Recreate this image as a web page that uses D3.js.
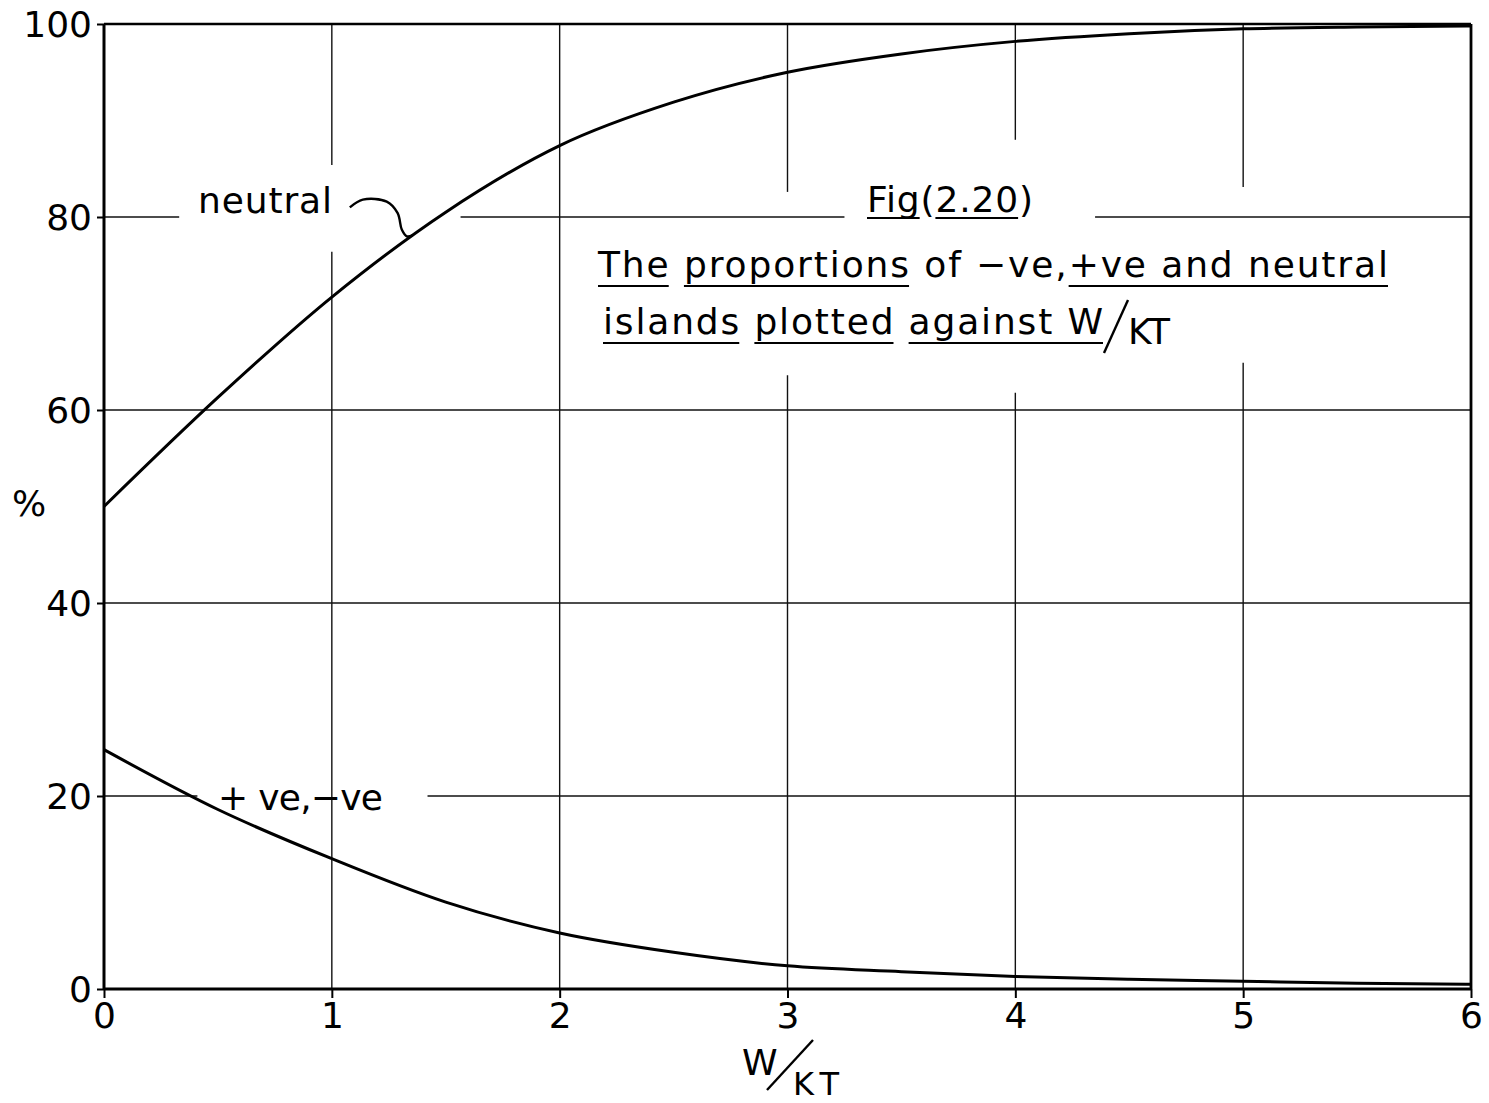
<!DOCTYPE html>
<html>
<head>
<meta charset="utf-8">
<script src="https://cdn.jsdelivr.net/npm/d3@7"></script>
<style>
  html, body { margin: 0; padding: 0; background: #fff; }
  svg { display: block; }
  text { font-family: "DejaVu Sans", "Liberation Sans", sans-serif; fill: #000; }
</style>
</head>
<body>
<svg id="chart" width="1489" height="1103"></svg>
<script>
// W/KT values at which the curves are read
const wkt = [0, 0.5, 1, 1.5, 2, 2.5, 3, 3.5, 4, 4.5, 5, 5.5, 6];
// percentage of neutral islands
const neutralPct = [50, 61.3, 71.7, 80.5, 87.4, 91.9, 95.0, 96.9, 98.2, 99.0, 99.5, 99.7, 99.8];
// percentage of +ve (equal to -ve) islands
const chargedPct = [24.8, 18.6, 13.5, 9.0, 5.8, 3.8, 2.4, 1.8, 1.3, 1.0, 0.8, 0.6, 0.5];

const xTicks = [0, 1, 2, 3, 4, 5, 6];
const yTicks = [0, 20, 40, 60, 80, 100];
const xTickLabels = ["0", "1", "2", "3", "4", "5", "6"];
const yTickLabels = ["0", "20", "40", "60", "80", "100"];

// grid lines are left open where the lettering sits
const vGridGaps = [
  { x: 1, from: 76.4, to: 85.4 },
  { x: 3, from: 63.6, to: 82.6 },
  { x: 4, from: 61.8, to: 88.0 },
  { x: 5, from: 64.9, to: 83.1 }
];
const hGridGaps = [
  { y: 80, from: 0.33, to: 1.565 },
  { y: 80, from: 3.25, to: 4.35 },
  { y: 20, from: 0.41, to: 1.42 }
];

// hand-drawn leader from the "neutral" label to its curve (data units)
const leaderPts = [
  [1.079, 81.0], [1.136, 81.8], [1.241, 81.6], [1.289, 80.4],
  [1.307, 78.7], [1.329, 78.0], [1.355, 78.1]
];

const svg = d3.select("#chart");
svg.append("rect").attr("width", 1489).attr("height", 1103).attr("fill", "#fff");

const x = d3.scaleLinear().domain([0, 6]).range([104, 1471]);
const y = d3.scaleLinear().domain([0, 100]).range([989, 24]);

const FS = 36;
const FONT = "DejaVu Sans, sans-serif";

// ---- grid ----
const grid = svg.append("g").attr("stroke", "#111").attr("stroke-width", 1.4).attr("fill", "none");

function segments(lo, hi, gaps) {
  const g = gaps.slice().sort((a, b) => a.from - b.from);
  const out = [];
  let cur = lo;
  g.forEach(d => { out.push([cur, d.from]); cur = d.to; });
  out.push([cur, hi]);
  return out;
}

xTicks.filter(v => v > 0 && v < 6).forEach(v => {
  const gaps = vGridGaps.filter(d => d.x === v);
  segments(0, 100, gaps).forEach(s => {
    grid.append("line")
      .attr("x1", x(v)).attr("x2", x(v))
      .attr("y1", y(s[0])).attr("y2", y(s[1]));
  });
});
yTicks.filter(v => v > 0 && v < 100).forEach(v => {
  const gaps = hGridGaps.filter(d => d.y === v);
  segments(0, 6, gaps).forEach(s => {
    grid.append("line")
      .attr("x1", x(s[0])).attr("x2", x(s[1]))
      .attr("y1", y(v)).attr("y2", y(v));
  });
});

// ---- frame ----
svg.append("line").attr("x1", x(0)).attr("x2", x(6)).attr("y1", y(100)).attr("y2", y(100))
  .attr("stroke", "#000").attr("stroke-width", 2.4);
svg.append("line").attr("x1", x(6)).attr("x2", x(6)).attr("y1", y(100)).attr("y2", y(0))
  .attr("stroke", "#000").attr("stroke-width", 2.8);

// ---- axes ----
const xAxis = d3.axisBottom(x).tickValues(xTicks).tickSize(9).tickPadding(6)
  .tickFormat((d, i) => xTickLabels[i]);
const yAxis = d3.axisLeft(y).tickValues(yTicks).tickSize(7).tickPadding(5)
  .tickFormat((d, i) => yTickLabels[i]);

const gx = svg.append("g").attr("transform", `translate(0,${y(0)})`).call(xAxis);
const gy = svg.append("g").attr("transform", `translate(${x(0)},0)`).call(yAxis);

[gx, gy].forEach(g => {
  g.select(".domain").attr("stroke", "#000").attr("stroke-width", 3);
  g.selectAll(".tick line").attr("stroke", "#000").attr("stroke-width", 2);
  g.selectAll(".tick text")
    .attr("font-family", FONT)
    .attr("font-size", FS).attr("fill", "#000");
});
gx.select(".domain").attr("d", `M${x(0)},0H${x(6)}`);
gy.select(".domain").attr("d", `M0,${y(0)}V${y(100)}`);
gx.selectAll(".tick text").attr("dy", "0.68em");
gy.selectAll(".tick text").attr("dy", "0.36em");

// ---- curves ----
const line = d3.line().x(d => x(d[0])).y(d => y(d[1])).curve(d3.curveMonotoneX);
svg.append("path")
  .attr("d", line(wkt.map((w, i) => [w, neutralPct[i]])))
  .attr("fill", "none").attr("stroke", "#000").attr("stroke-width", 3);
svg.append("path")
  .attr("d", line(wkt.map((w, i) => [w, chargedPct[i]])))
  .attr("fill", "none").attr("stroke", "#000").attr("stroke-width", 3);

// leader
svg.append("path")
  .attr("d", d3.line().x(d => x(d[0])).y(d => y(d[1])).curve(d3.curveCatmullRom)(leaderPts))
  .attr("fill", "none").attr("stroke", "#000").attr("stroke-width", 2.4);

// ---- labels ----
function label(txt, px, py, opts = {}) {
  const t = svg.append("text").attr("x", px).attr("y", py)
    .attr("font-size", opts.size || FS)
    .text(txt);
  if (opts.len) t.attr("textLength", opts.len).attr("lengthAdjust", "spacing");
  if (opts.anchor) t.attr("text-anchor", opts.anchor);
  return t;
}

function underline(t, parts, off) {
  const s = t.text();
  const n = t.node();
  const nChars = n.getNumberOfChars();
  const by = +t.attr("y") + off;
  parts.forEach(p => {
    const i = s.indexOf(p);
    if (i < 0 || i + p.length > nChars) return;
    const x0 = n.getStartPositionOfChar(i).x;
    const x1 = n.getEndPositionOfChar(i + p.length - 1).x;
    svg.append("line").attr("x1", x0).attr("x2", x1).attr("y1", by).attr("y2", by)
      .attr("stroke", "#000").attr("stroke-width", 2);
  });
}

label("neutral", 198, 213, { len: 134 });
label("+ ve,\u2212ve", 218, 810, { len: 165 });
label("%", 12, 516);

const fig = label("Fig(2.20)", 867, 212, { len: 166 });
underline(fig, ["Fig", "2.20"], 6);

const t1 = label("The proportions of \u2212ve,+ve and neutral", 598, 277, { len: 790 });
underline(t1, ["The", "proportions", "+ve and neutral"], 9);

const t2 = label("islands plotted against W", 603, 334, { len: 500 });
underline(t2, ["islands", "plotted", "against W"], 9);
svg.append("line").attr("x1", 1104).attr("y1", 353).attr("x2", 1128).attr("y2", 300)
  .attr("stroke", "#000").attr("stroke-width", 2.4);
label("KT", 1128, 344, { len: 42 });

// x axis title W/KT
label("W", 742, 1075, { len: 36 });
svg.append("line").attr("x1", 767).attr("y1", 1090).attr("x2", 813).attr("y2", 1040)
  .attr("stroke", "#000").attr("stroke-width", 2.4);
label("KT", 793, 1095, { len: 46, size: 32 });
</script>
</body>
</html>
